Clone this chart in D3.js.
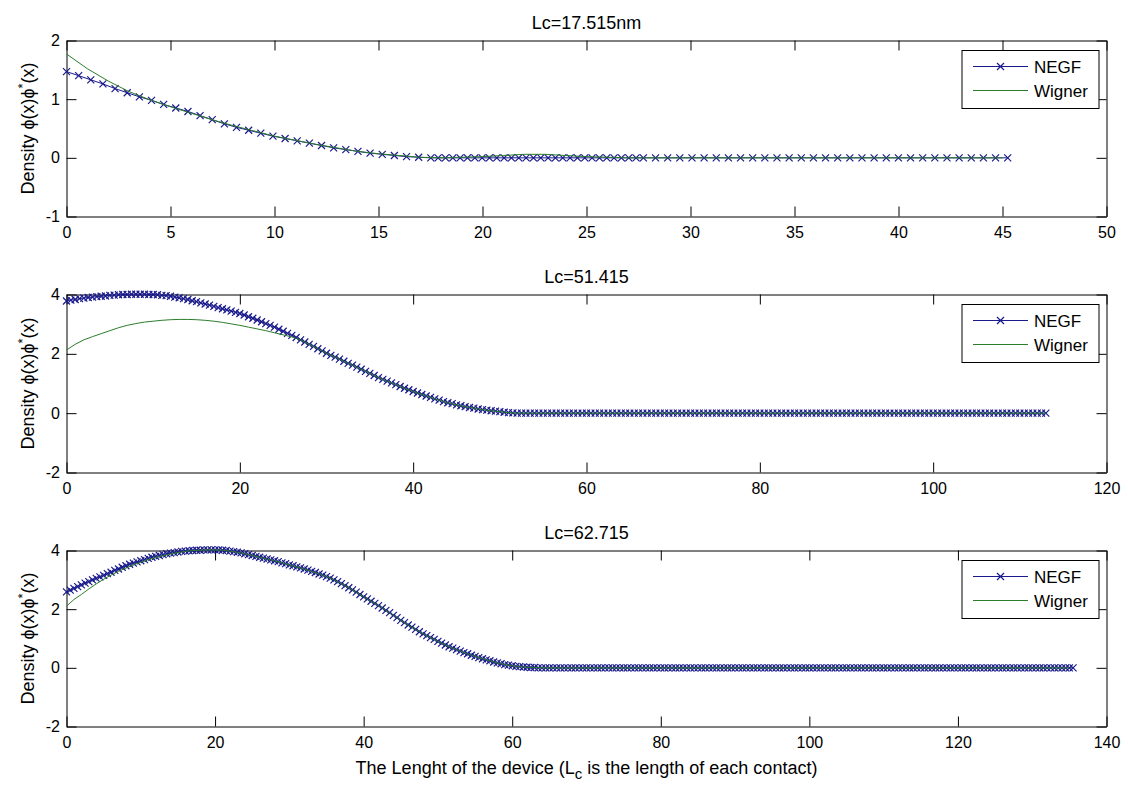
<!DOCTYPE html>
<html>
<head>
<meta charset="utf-8">
<script src="https://cdn.jsdelivr.net/npm/d3@7"></script>
<style>
body { margin: 0; background: #fff; }
svg { display: block; font-family: "Liberation Sans", Arial, sans-serif; }
</style>
</head>
<body>
<svg id="chart" width="1128" height="785"></svg>
<script>
// ---- data ----
const titles = ["Lc=17.515nm", "Lc=51.415", "Lc=62.715"];
const seriesNames = ["NEGF", "Wigner"];

const xTicksTop = [0, 5, 10, 15, 20, 25, 30, 35, 40, 45, 50];
const yTicksTop = [-1, 0, 1, 2];
const xTicksMid = [0, 20, 40, 60, 80, 100, 120];
const yTicksMid = [-2, 0, 2, 4];
const xTicksBot = [0, 20, 40, 60, 80, 100, 120, 140];
const yTicksBot = [-2, 0, 2, 4];

// sample grids: [start, end, number of points]  (contact / device / contact)
const gridNegfTop = [[0, 17.515, 31], [17.867, 27.735, 29], [28.319, 45.25, 30]];
const gridWignerTop = [[0, 45, 46]];
const gridNegfMid = [[0, 113, 227]];
const gridWignerMid = [[0, 113, 114]];
const gridNegfBot = [[0, 135.5, 272]];
const gridWignerBot = [[0, 135, 136]];

const negfTop = [
  1.47,1.40,1.33,1.26,1.18,1.11,1.04,0.98,0.91,0.85,
  0.79,0.72,0.65,0.58,0.52,0.47,0.42,0.37,0.33,0.29,
  0.25,0.21,0.17,0.14,0.11,0.08,0.06,0.04,0.02,0.01,0.00,
  0,0,0,0,0,0,0,0,0,0, 0,0,0,0,0,0,0,0,0,0, 0,0,0,0,0,0,0,0,0,
  0,0,0,0,0,0,0,0,0,0, 0,0,0,0,0,0,0,0,0,0, 0,0,0,0,0,0,0,0,0,0
];
const wignerTop = [
  1.77,1.52,1.31,1.13,0.99,0.87,0.76,0.65,0.55,0.46,
  0.37,0.30,0.23,0.17,0.11,0.07,0.04,0.01,0.00,0.01,
  0.02,0.04,0.06,0.06,0.04,0.02,0.01,0.00,
  0,0,0,0,0,0,0,0,0,0, 0,0,0,0,0,0,0,0
];

const negfMid = [
  3.78,3.81,3.83,3.86,3.88,3.90,3.91,3.93,3.94,3.95,
  3.97,3.98,3.99,4.00,4.00,4.01,4.01,4.01,4.01,4.00,
  4.00,3.99,3.97,3.96,3.94,3.91,3.89,3.86,3.83,3.79,
  3.76,3.72,3.68,3.64,3.60,3.56,3.52,3.48,3.44,3.40,
  3.36,3.31,3.25,3.20,3.14,3.08,3.02,2.96,2.90,2.83,
  2.76,2.69,2.62,2.55,2.47,2.40,2.32,2.25,2.17,2.10,
  2.02,1.95,1.89,1.82,1.75,1.68,1.62,1.55,1.48,1.41,
  1.34,1.27,1.20,1.14,1.08,1.02,0.96,0.90,0.84,0.79,
  0.73,0.68,0.63,0.58,0.53,0.48,0.44,0.39,0.35,0.32,
  0.28,0.25,0.22,0.19,0.17,0.14,0.12,0.10,0.08,0.07,
  0.05,0.03,0.02,0.01,
  0,0,0,0,0,0,0,0,0,0, 0,0,0,0,0,0,0,0,0,0, 0,0,0,0,0,0,0,0,0,0,
  0,0,0,0,0,0,0,0,0,0, 0,0,0,0,0,0,0,0,0,0, 0,0,0,0,0,0,0,0,0,0,
  0,0,0,0,0,0,0,0,0,0, 0,0,0,0,0,0,0,0,0,0, 0,0,0,0,0,0,0,0,0,0,
  0,0,0,0,0,0,0,0,0,0, 0,0,0,0,0,0,0,0,0,0, 0,0,0,0,0,0,0,0,0,0,
  0,0,0
];
const wignerMid = [
  2.13,2.32,2.47,2.58,2.68,2.78,2.88,2.96,3.02,3.07,
  3.10,3.13,3.15,3.16,3.16,3.15,3.13,3.10,3.06,3.01,
  2.96,2.90,2.84,2.78,2.71,2.64,2.57,2.47,2.32,2.17,
  2.02,1.89,1.75,1.62,1.48,1.34,1.20,1.08,0.96,0.84,
  0.73,0.63,0.53,0.44,0.35,0.28,0.22,0.17,0.12,0.08,
  0.05,0.02,
  0,0,0,0,0,0,0,0,0,0, 0,0,0,0,0,0,0,0,0,0, 0,0,0,0,0,0,0,0,0,0,
  0,0,0,0,0,0,0,0,0,0, 0,0,0,0,0,0,0,0,0,0, 0,0,0,0,0,0,0,0,0,0,
  0,0
];

const negfBot = [
  2.59,2.65,2.71,2.77,2.83,2.89,2.94,3.00,3.05,3.10,
  3.15,3.21,3.26,3.32,3.37,3.43,3.48,3.53,3.57,3.61,
  3.65,3.69,3.73,3.77,3.80,3.83,3.86,3.89,3.91,3.93,
  3.95,3.97,3.98,3.99,4.00,4.01,4.01,4.02,4.02,4.02,
  4.02,4.02,4.01,4.00,3.98,3.96,3.94,3.92,3.89,3.86,
  3.83,3.80,3.77,3.74,3.71,3.68,3.65,3.62,3.58,3.55,
  3.51,3.48,3.44,3.41,3.37,3.33,3.29,3.25,3.20,3.16,
  3.11,3.06,3.00,2.94,2.87,2.80,2.73,2.66,2.58,2.50,
  2.42,2.35,2.27,2.20,2.12,2.04,1.96,1.88,1.79,1.71,
  1.62,1.54,1.46,1.39,1.31,1.23,1.16,1.10,1.03,0.97,
  0.90,0.84,0.78,0.72,0.67,0.62,0.57,0.52,0.48,0.43,
  0.39,0.35,0.31,0.27,0.24,0.20,0.17,0.14,0.11,0.09,
  0.07,0.05,0.04,0.03,0.02,0.01,0.01,
  0,0,0,0,0,0,0,0,0,0, 0,0,0,0,0,0,0,0,0,0, 0,0,0,0,0,0,0,0,0,0,
  0,0,0,0,0,0,0,0,0,0, 0,0,0,0,0,0,0,0,0,0, 0,0,0,0,0,0,0,0,0,0,
  0,0,0,0,0,0,0,0,0,0, 0,0,0,0,0,0,0,0,0,0, 0,0,0,0,0,0,0,0,0,0,
  0,0,0,0,0,0,0,0,0,0, 0,0,0,0,0,0,0,0,0,0, 0,0,0,0,0,0,0,0,0,0,
  0,0,0,0,0,0,0,0,0,0, 0,0,0,0,0,0,0,0,0,0,
  0,0,0,0,0
];
const wignerBot = [
  2.10,2.33,2.50,2.69,2.86,3.02,3.16,3.29,3.40,3.51,
  3.60,3.69,3.76,3.82,3.88,3.93,3.97,4.00,4.01,4.02,
  4.02,4.01,3.98,3.94,3.89,3.83,3.77,3.71,3.65,3.58,
  3.51,3.44,3.37,3.29,3.20,3.11,3.00,2.87,2.73,2.58,
  2.42,2.27,2.12,1.96,1.79,1.62,1.46,1.31,1.16,1.03,
  0.90,0.78,0.67,0.57,0.48,0.39,0.31,0.24,0.17,0.11,
  0.07,0.04,0.02,0.01,
  0,0,0,0,0,0,0,0,0,0, 0,0,0,0,0,0,0,0,0,0, 0,0,0,0,0,0,0,0,0,0,
  0,0,0,0,0,0,0,0,0,0, 0,0,0,0,0,0,0,0,0,0, 0,0,0,0,0,0,0,0,0,0,
  0,0,0,0,0,0,0,0,0,0, 0,0
];

// ---- layout ----
const plotLeft = 66.5, plotRight = 1106.5;
const negfColor = "#1a1a8c";
const wignerColor = "#2b7d2b";

const svg = d3.select("#chart");

function buildX(segments, n)
{
    // single segment: spread over as many points as the series has
    if (segments.length == 1) {
        const [a, b] = segments[0];
        return d3.range(n).map(i => a + (b - a) * i / (n - 1));
    }
    let xs = [];
    segments.forEach(([a, b, c]) => {
        for (let i = 0; i < c; i++) xs.push(a + (b - a) * i / (c - 1));
    });
    return xs;
}

function pairs(grid, ys)
{
    const xs = buildX(grid, ys.length);
    const n = Math.min(xs.length, ys.length);
    return d3.range(n).map(i => [xs[i], ys[i]]);
}

const xMark = "M-3.5,-3.5L3.5,3.5M-3.5,3.5L3.5,-3.5";

const panels = [
    {title: titles[0], top: 40.5, bottom: 216.5, xDomain: [0, 50], yDomain: [-1, 2],
     xTicks: xTicksTop, yTicks: yTicksTop,
     negf: pairs(gridNegfTop, negfTop), wigner: pairs(gridWignerTop, wignerTop)},
    {title: titles[1], top: 294.5, bottom: 472.5, xDomain: [0, 120], yDomain: [-2, 4],
     xTicks: xTicksMid, yTicks: yTicksMid,
     negf: pairs(gridNegfMid, negfMid), wigner: pairs(gridWignerMid, wignerMid)},
    {title: titles[2], top: 550.5, bottom: 726.5, xDomain: [0, 140], yDomain: [-2, 4],
     xTicks: xTicksBot, yTicks: yTicksBot,
     negf: pairs(gridNegfBot, negfBot), wigner: pairs(gridWignerBot, wignerBot)}
];

function styleAxis(g)
{
    g.attr("font-family", null).attr("font-size", null);
    g.selectAll(".domain").attr("stroke", "#000").attr("stroke-width", 1);
    g.selectAll(".tick line").attr("stroke", "#000").attr("stroke-width", 1);
    g.selectAll(".tick text").attr("fill", "#000").style("font-size", "16px");
}

function drawPanel(p)
{
    const x = d3.scaleLinear().domain(p.xDomain).range([plotLeft, plotRight]);
    const y = d3.scaleLinear().domain(p.yDomain).range([p.bottom, p.top]);
    const g = svg.append("g");
    const plain = d => String(d);

    g.append("g").attr("transform", `translate(0,${p.bottom})`)
        .call(d3.axisBottom(x).tickValues(p.xTicks).tickSizeInner(-10).tickSizeOuter(0).tickPadding(10.5).tickFormat(plain))
        .call(styleAxis);
    g.append("g").attr("transform", `translate(0,${p.top})`)
        .call(d3.axisTop(x).tickValues(p.xTicks).tickSizeInner(-10).tickSizeOuter(0).tickFormat(""))
        .call(styleAxis);
    g.append("g").attr("transform", `translate(${plotLeft},0)`)
        .call(d3.axisLeft(y).tickValues(p.yTicks).tickSizeInner(-10).tickSizeOuter(0).tickPadding(6.5).tickFormat(plain))
        .call(styleAxis);
    g.append("g").attr("transform", `translate(${plotRight},0)`)
        .call(d3.axisRight(y).tickValues(p.yTicks).tickSizeInner(-10).tickSizeOuter(0).tickFormat(""))
        .call(styleAxis);

    const line = d3.line().x(d => x(d[0])).y(d => y(d[1]));

    g.append("path").datum(p.negf)
        .attr("d", line).attr("fill", "none")
        .attr("stroke", negfColor).attr("stroke-width", 1);
    g.append("g").selectAll("path").data(p.negf).join("path")
        .attr("d", xMark)
        .attr("transform", d => `translate(${x(d[0])},${y(d[1])})`)
        .attr("fill", "none").attr("stroke", negfColor).attr("stroke-width", 1.2);

    g.append("path").datum(p.wigner)
        .attr("d", line).attr("fill", "none")
        .attr("stroke", wignerColor).attr("stroke-width", 1);

    // title
    g.append("text")
        .attr("x", (plotLeft + plotRight) / 2).attr("y", p.top - 11.5)
        .attr("text-anchor", "middle").style("font-size", "18px")
        .text(p.title);

    // y label
    const yl = g.append("text")
        .attr("transform", `translate(34,${(p.top + p.bottom) / 2}) rotate(-90)`)
        .attr("text-anchor", "middle").style("font-size", "18px");
    yl.append("tspan").text("Density  \u03d5(x)\u03d5");
    yl.append("tspan").attr("dy", -7).style("font-size", "13px").text("*");
    yl.append("tspan").attr("dy", 7).text("(x)");

    // legend
    const lx = 962, ly = p.top + 10;
    const leg = g.append("g").attr("transform", `translate(${lx},${ly})`);
    leg.append("rect").attr("width", 137).attr("height", 58)
        .attr("fill", "#fff").attr("stroke", "#000").attr("stroke-width", 1);
    const rows = [{name: seriesNames[0], color: negfColor, y: 16, mark: true},
                  {name: seriesNames[1], color: wignerColor, y: 40, mark: false}];
    rows.forEach(r => {
        leg.append("line").attr("x1", 11).attr("x2", 66).attr("y1", r.y).attr("y2", r.y)
            .attr("stroke", r.color).attr("stroke-width", 1);
        if (r.mark)
            leg.append("path").attr("d", xMark).attr("transform", `translate(38.5,${r.y})`)
                .attr("fill", "none").attr("stroke", r.color).attr("stroke-width", 1.2);
        leg.append("text").attr("x", 72).attr("y", r.y + 6)
            .style("font-size", "17px").text(r.name);
    });
}

panels.forEach(drawPanel);

// x label under the last panel
const xl = svg.append("text")
    .attr("x", (plotLeft + plotRight) / 2).attr("y", 774)
    .attr("text-anchor", "middle").style("font-size", "18px");
xl.append("tspan").text("The Lenght of the device (L");
xl.append("tspan").attr("dy", 5).style("font-size", "15px").text("c");
xl.append("tspan").attr("dy", -5).text(" is the length of each contact)");
</script>
</body>
</html>
